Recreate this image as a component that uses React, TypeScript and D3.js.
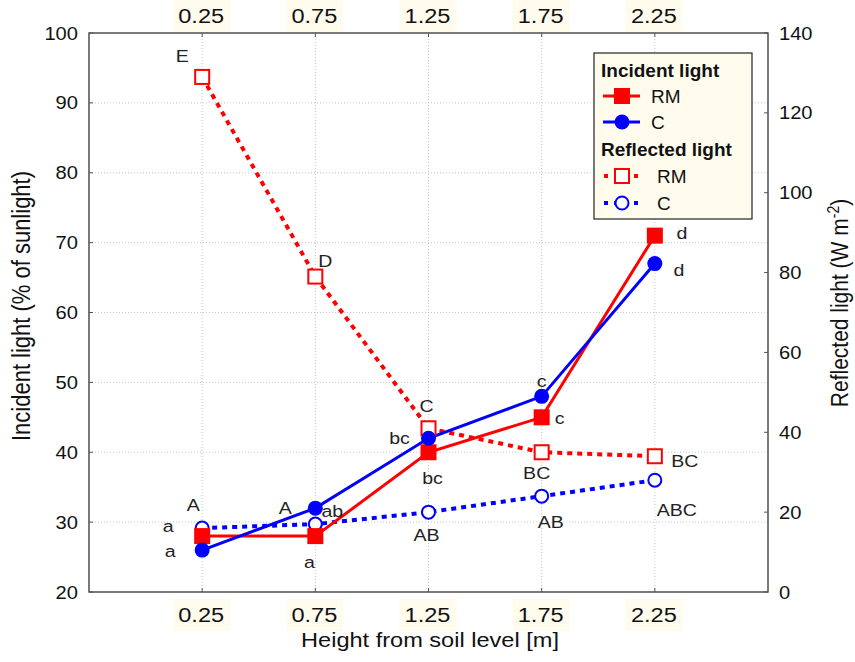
import React, { useEffect, useRef } from 'react';
import * as d3 from 'd3';

// heights above soil (m)
const heights = [0.25, 0.75, 1.25, 1.75, 2.25];

// incident light, % of sunlight (left axis)
const incidentRM = [28, 28, 40, 45, 71];
const incidentC = [26, 32, 42, 48, 67];

// reflected light, W m-2 (right axis)
const reflectedRM = [129, 79, 41, 35, 34];
const reflectedC = [16, 17, 20, 24, 28];

// significance letters
const lettersIncRM = ['a', 'a', 'bc', 'c', 'd'];
const lettersIncC = ['a', 'ab', 'bc', 'c', 'd'];
const lettersRefRM = ['E', 'D', 'C', 'BC', 'BC'];
const lettersRefC = ['A', 'A', 'AB', 'AB', 'ABC'];

const leftTicks = [20, 30, 40, 50, 60, 70, 80, 90, 100];
const rightTicks = [0, 20, 40, 60, 80, 100, 120, 140];

// where each letter sits next to its point (px)
const offIncRM = [[-34, -10], [-6, 26], [4, 26], [18, 1], [27, -3]];
const offIncC = [[-32, 1], [17, 3], [-29, 0], [0, -15], [24, 6]];
const offRefRM = [[-20, -21], [10, -16], [-2, -22], [-5, 21], [30, 5]];
const offRefC = [[-9, -23], [-30, -16], [-2, 23], [9, 26], [22, 30]];

const W = 855;
const H = 662;
const m = { left: 89, right: 768, top: 33, bottom: 592 };
const RED = '#ff0000';
const BLUE = '#0000ff';
const CREAM = '#fffcee';
const FONT = 'Arial, "Liberation Sans", sans-serif';
const SX = 1.15; // the original picture is a bit wider than tall

const App = () => {
    const ref = useRef<SVGSVGElement>(null);

    useEffect(() => {
        const svg = d3.select(ref.current);
        svg.selectAll('*').remove();

        const x = d3.scaleLinear().domain([-0.25, 2.75]).range([m.left, m.right]);
        const yL = d3.scaleLinear().domain([20, 100]).range([m.bottom, m.top]);
        const yR = d3.scaleLinear().domain([0, 140]).range([m.bottom, m.top]);

        // stretched text
        const txt = (g: any, tx: number, ty: number, s: string, size: number, anchor = 'middle', fill = '#111') =>
            g.append('text')
                .attr('transform', `translate(${tx},${ty}) scale(${SX},1)`)
                .attr('text-anchor', anchor)
                .attr('font-family', FONT).attr('font-size', size).attr('fill', fill)
                .text(s);

        svg.append('rect').attr('width', W).attr('height', H).attr('fill', '#fff');

        //  Grid
        const grid = svg.append('g');
        grid.selectAll('.gx').data(heights).enter().append('line')
            .attr('x1', d => x(d)).attr('x2', d => x(d))
            .attr('y1', m.top).attr('y2', m.bottom)
            .attr('stroke', '#c8c8c8').attr('stroke-dasharray', '1,2');
        grid.selectAll('.gy').data(leftTicks.slice(1, -1)).enter().append('line')
            .attr('x1', m.left).attr('x2', m.right)
            .attr('y1', d => yL(d)).attr('y2', d => yL(d))
            .attr('stroke', '#c8c8c8').attr('stroke-dasharray', '1,2');

        //  Frame
        svg.append('rect')
            .attr('x', m.left).attr('y', m.top)
            .attr('width', m.right - m.left).attr('height', m.bottom - m.top)
            .attr('fill', 'none').attr('stroke', '#333').attr('stroke-width', 1.3);

        //  Y axes
        const ax = svg.append('g');
        leftTicks.forEach(t => {
            ax.append('line').attr('x1', m.left).attr('x2', m.left + 4)
                .attr('y1', yL(t)).attr('y2', yL(t)).attr('stroke', '#555');
            txt(ax, 78, yL(t) + 6.5, String(t), 17.5, 'end');
        });
        rightTicks.forEach(t => {
            ax.append('line').attr('x1', m.right - 4).attr('x2', m.right)
                .attr('y1', yR(t)).attr('y2', yR(t)).attr('stroke', '#555');
            txt(ax, 779, yR(t) + 6.5, String(t), 17.5, 'start');
        });

        //  X labels, bottom and top
        const xLabels = (base: number, boxTop: number, dir: number) => {
            const g = svg.append('g');
            g.selectAll('line').data(heights).enter().append('line')
                .attr('x1', d => x(d)).attr('x2', d => x(d))
                .attr('y1', dir > 0 ? m.bottom : m.top).attr('y2', dir > 0 ? m.bottom - 4 : m.top + 4)
                .attr('stroke', '#555');
            g.selectAll('rect').data(heights).enter().append('rect')
                .attr('x', d => x(d) - 29).attr('y', boxTop)
                .attr('width', 57).attr('height', 32).attr('fill', CREAM);
            heights.forEach(h => txt(g, x(h) - 1, base, d3.format('.2f')(h), 20.5));
        };
        xLabels(622, 599, 1);
        xLabels(23, 0, -1);

        //  Axis titles
        txt(svg, 430, 647, 'Height from soil level [m]', 20.5);
        svg.append('text')
            .attr('transform', `translate(30,306) rotate(-90) scale(1,${SX})`)
            .attr('text-anchor', 'middle').attr('font-family', FONT).attr('font-size', 22).attr('fill', '#111')
            .text('Incident light (% of sunlight)');
        const rt = svg.append('text')
            .attr('transform', `translate(848,303) rotate(-90) scale(1,${SX})`)
            .attr('text-anchor', 'middle').attr('font-family', FONT).attr('font-size', 21).attr('fill', '#111');
        rt.append('tspan').text('Reflected light (W m');
        rt.append('tspan').attr('dy', -8).attr('font-size', 14).text('-2');
        rt.append('tspan').attr('dy', 8).text(')');

        //  Series
        const series = [
            { vals: reflectedRM, y: yR, color: RED, dash: '5,5', shape: 'square', hollow: true, letters: lettersRefRM, off: offRefRM },
            { vals: reflectedC, y: yR, color: BLUE, dash: '5,5', shape: 'circle', hollow: true, letters: lettersRefC, off: offRefC },
            { vals: incidentRM, y: yL, color: RED, dash: null, shape: 'square', hollow: false, letters: lettersIncRM, off: offIncRM },
            { vals: incidentC, y: yL, color: BLUE, dash: null, shape: 'circle', hollow: false, letters: lettersIncC, off: offIncC },
        ];

        const drawMarker = (g: any, cx: number, cy: number, s: any) => {
            if (s.shape === 'square') {
                const sz = s.hollow ? 14 : 16;
                g.append('rect').attr('x', cx - sz / 2).attr('y', cy - sz / 2).attr('width', sz).attr('height', sz)
                    .attr('fill', s.hollow ? '#fff' : s.color)
                    .attr('stroke', s.color).attr('stroke-width', s.hollow ? 2 : 0);
            } else {
                g.append('circle').attr('cx', cx).attr('cy', cy).attr('r', s.hollow ? 6.5 : 7.5)
                    .attr('fill', s.hollow ? '#fff' : s.color)
                    .attr('stroke', s.color).attr('stroke-width', s.hollow ? 2 : 0);
            }
        };

        series.forEach(s => {
            const line = d3.line<number>().x((d, i) => x(heights[i])).y(d => s.y(d));
            const path = svg.append('path').datum(s.vals)
                .attr('d', line).attr('fill', 'none')
                .attr('stroke', s.color).attr('stroke-width', s.dash ? 4 : 3);
            if (s.dash) path.attr('stroke-dasharray', s.dash);
        });
        series.forEach(s => {
            const g = svg.append('g');
            s.vals.forEach((v, i) => drawMarker(g, x(heights[i]), s.y(v), s));
        });
        series.forEach(s => {
            const g = svg.append('g');
            s.vals.forEach((v, i) =>
                txt(g, x(heights[i]) + s.off[i][0], s.y(v) + s.off[i][1] + 6, s.letters[i], 17, 'middle', '#222'));
        });

        //  Legend
        const lg = svg.append('g').attr('transform', 'translate(594,53)');
        lg.append('rect').attr('width', 158).attr('height', 166)
            .attr('fill', CREAM).attr('stroke', '#333').attr('stroke-width', 1.3);
        const header = (text: string, yPos: number) => lg.append('text')
            .attr('x', 7).attr('y', yPos).attr('font-family', FONT).attr('font-size', 19)
            .attr('font-weight', 'bold').attr('fill', '#111').text(text);
        header('Incident light', 24);
        header('Reflected light', 103);
        const rows = [
            { s: series[2], label: 'RM', y: 43, tx: 57 },
            { s: series[3], label: 'C', y: 69, tx: 57 },
            { s: series[0], label: 'RM', y: 123, tx: 63 },
            { s: series[1], label: 'C', y: 150, tx: 63 },
        ];
        rows.forEach(r => {
            const l = lg.append('line').attr('x1', 9).attr('x2', 46).attr('y1', r.y).attr('y2', r.y)
                .attr('stroke', r.s.color).attr('stroke-width', r.s.dash ? 4 : 3);
            if (r.s.dash) l.attr('stroke-dasharray', '4,6').attr('stroke-dashoffset', -1);
            drawMarker(lg, 28, r.y, r.s);
            lg.append('text').attr('x', r.tx).attr('y', r.y + 7)
                .attr('font-family', FONT).attr('font-size', 19).attr('fill', '#111').text(r.label);
        });
    }, []);

    return (
        <svg ref={ref} width={W} height={H} style={{ display: 'block', position: 'absolute', left: 0, top: 0 }} />
    );
};

export default App;
